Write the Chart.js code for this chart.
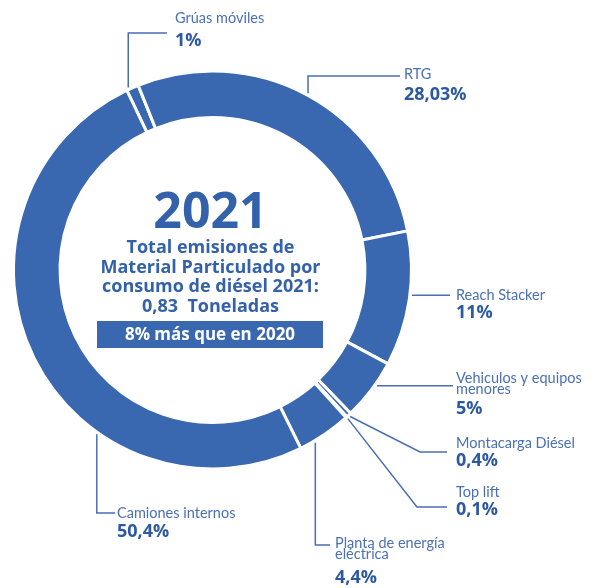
<!DOCTYPE html>
<html>
<head>
<meta charset="utf-8">
<script src="https://cdn.jsdelivr.net/npm/chart.js@4/dist/chart.umd.min.js"></script>
<style>
  body { margin: 0; background: #ffffff; }
  #wrap { width: 605px; height: 588px; position: relative; }
</style>
</head>
<body>
<div id="wrap"><canvas id="emisiones"></canvas></div>
<script>
// emisiones de material particulado por tipo de equipo (%)
const categories = ["Grúas móviles", "RTG", "Reach Stacker", "Vehiculos y equipos menores",
  "Montacarga Diésel", "Top lift", "Planta de energía eléctrica", "Camiones internos"];
const shares = [1, 28.03, 11, 5, 0.4, 0.1, 4.4, 50.4];
const labelLines = [["Grúas móviles"], ["RTG"], ["Reach Stacker"], ["Vehiculos y equipos", "menores"],
  ["Montacarga Diésel"], ["Top lift"], ["Planta de energía", "eléctrica"], ["Camiones internos"]];

const centerYear = "2021";
const centerLines = ["Total emisiones de", "Material Particulado por", "consumo de diésel 2021:", "0,83  Toneladas"];
const centerNote = "8% más que en 2020";

const blue = "#3968b0";
const nameColor = "#4a70b6";
const valueColor = "#2d58a2";
const lineColor = "#4a6db3";

// where each label sits and how its leader line runs
const labelPos = [
  { x: 175, y: 23, vy: 46 },
  { x: 404, y: 79, vy: 100 },
  { x: 456, y: 300, vy: 318 },
  { x: 456, y: 383, lh: 11, vy: 414 },
  { x: 456, y: 448, vy: 466 },
  { x: 456, y: 497, vy: 515 },
  { x: 335, y: 548, lh: 11, vy: 583 },
  { x: 117, y: 518, vy: 537 }
];
const routes = [
  { at: 0.2, type: "vh", y: 33, x: 167 },
  { at: 0.5, type: "vh", y: 76, x: 400 },
  { at: 0.47, type: "h", x: 450 },
  { at: 0.39, type: "h", x: 453 },
  { at: 0.5, type: "dh", x1: 420, y1: 452, x: 447 },
  { at: 0.5, type: "dh", x1: 417, y1: 507, x: 447 },
  { at: 0.72, type: "vh", y: 545, x: 330 },
  { at: 0.34, type: "vh", y: 513, x: 115 }
];

function pct(v) {
  return String(v).replace(".", ",") + "%";
}

const labelsPlugin = {
  id: "labelsPlugin",
  afterDatasetsDraw(chart) {
    const ctx = chart.ctx;
    const arcs = chart.getDatasetMeta(0).data;
    ctx.save();

    // leader lines
    ctx.strokeStyle = lineColor;
    ctx.lineWidth = 1.5;
    arcs.forEach((arc, i) => {
      const r = routes[i];
      const a = arc.startAngle + (arc.endAngle - arc.startAngle) * r.at;
      const rad = arc.outerRadius + 2;
      const x0 = arc.x + Math.cos(a) * rad;
      const y0 = arc.y + Math.sin(a) * rad;
      ctx.beginPath();
      ctx.moveTo(x0, y0);
      if (r.type === "vh") {
        ctx.lineTo(x0, r.y);
        ctx.lineTo(r.x, r.y);
      } else if (r.type === "h") {
        ctx.lineTo(r.x, y0);
      } else {
        ctx.lineTo(r.x1, r.y1);
        ctx.lineTo(r.x, r.y1);
      }
      ctx.stroke();
    });

    // category names and values
    ctx.textAlign = "left";
    ctx.textBaseline = "alphabetic";
    labelLines.forEach((lines, i) => {
      const p = labelPos[i];
      ctx.fillStyle = nameColor;
      ctx.font = "14.5px Lato";
      lines.forEach((t, k) => ctx.fillText(t, p.x, p.y + k * (p.lh || 15)));
      ctx.fillStyle = valueColor;
      ctx.font = "bold 18px 'Open Sans'";
      ctx.fillText(pct(shares[i]), p.x, p.vy);
    });

    // centre text
    const cx = arcs[0].x - 2;
    ctx.textAlign = "center";
    ctx.fillStyle = "#3462aa";
    ctx.font = "bold 50px 'Open Sans'";
    ctx.fillText(centerYear, cx, 228);
    ctx.font = "bold 18px 'Open Sans'";
    centerLines.forEach((t, k) => ctx.fillText(t, cx, 253 + k * 19.7));

    ctx.fillStyle = blue;
    ctx.fillRect(97, 321, 226, 27);
    ctx.fillStyle = "#ffffff";
    ctx.font = "bold 17px 'Open Sans'";
    ctx.fillText(centerNote, 210, 340);
    ctx.restore();
  }
};

new Chart(document.getElementById("emisiones"), {
  type: "doughnut",
  data: {
    labels: categories,
    datasets: [{
      data: shares,
      backgroundColor: blue,
      hoverBackgroundColor: blue,
      borderColor: "#ffffff",
      borderWidth: 3,
      hoverBorderWidth: 0,
      hoverOffset: 0
    }]
  },
  options: {
    responsive: true,
    maintainAspectRatio: false,
    animation: false,
    rotation: -25.5,
    cutout: "76.6%",
    layout: { padding: { left: 12, right: 192, top: 69.5, bottom: 117.5 } },
    plugins: {
      legend: { display: false },
      tooltip: { enabled: false }
    }
  },
  plugins: [labelsPlugin]
});
</script>
</body>
</html>
